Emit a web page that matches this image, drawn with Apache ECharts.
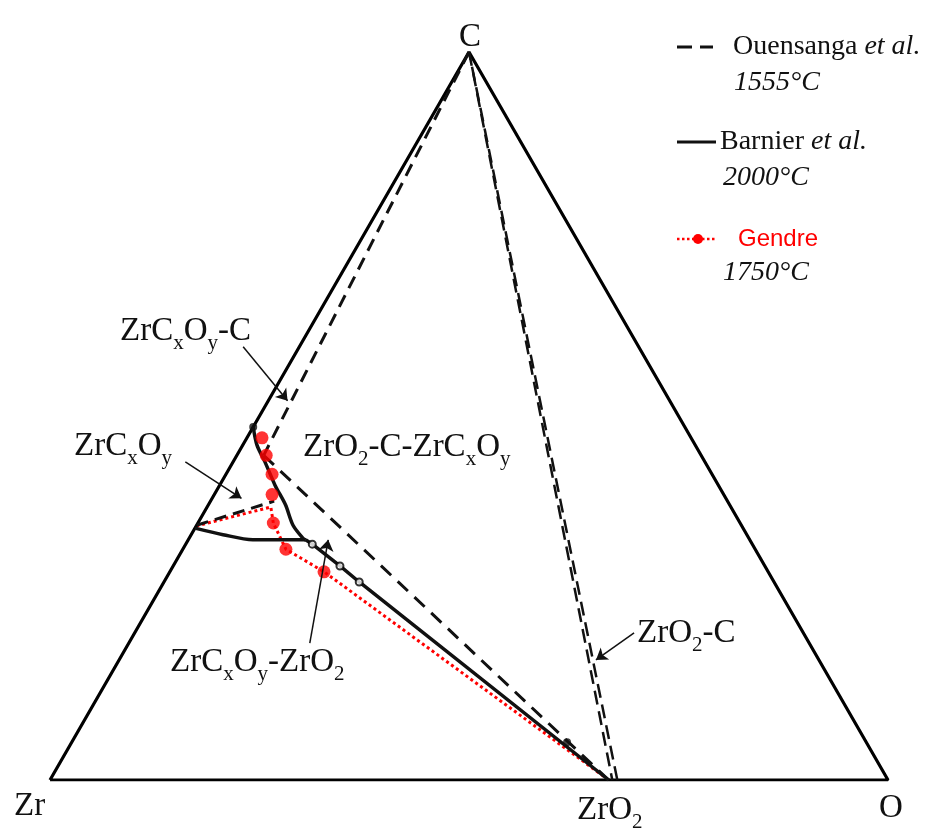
<!DOCTYPE html>
<html>
<head>
<meta charset="utf-8">
<title>Zr-C-O</title>
<script src="https://cdn.jsdelivr.net/npm/echarts@6/dist/echarts.min.js"></script>
<style>
  html, body { margin: 0; padding: 0; background: #fff; }
  #chart { width: 933px; height: 831px; }
</style>
</head>
<body>
<div id="chart"></div>
<script>
// every point is a composition: [atomic fraction of C, atomic fraction of O], Zr is the rest
const frame = [[0, 0], [0, 1], [1, 0], [0, 0]]            // Zr -> O -> C -> Zr
// Ouensanga et al. 1555°C (dashed)
const ouensangaC = [[1, 0], [0.446, 0.032]]
const ouensangaZrO2 = [[0.446, 0.032], [0, 0.6667]]
const ouensangaZr = [[0.350, 0], [0.383, 0.076]]
const ouensangaCZrO2a = [[1, 0], [0, 0.671]]
const ouensangaCZrO2b = [[1, 0], [0, 0.677]]
// Barnier et al. 2000°C (solid)
const barnierCarbide = [[0.485, 0], [0.460, 0.017], [0.437, 0.038], [0.405, 0.066], [0.378, 0.092], [0.350, 0.115], [0.332, 0.136], [0.330, 0.140]]
const barnierLower = [[0.346, 0], [0.337, 0.038], [0.330, 0.077], [0.330, 0.110], [0.330, 0.140]]
const barnierTie = [[0.330, 0.140], [0.324, 0.151], [0.294, 0.199], [0.272, 0.233], [0, 0.6667]]
const barnierOpen = [[0.324, 0.151], [0.294, 0.199], [0.272, 0.233]]
const barnierFilled = [[0.485, 0], [0.052, 0.591]]
// Gendre 1750°C (red dotted + dots)
const gendreLine = [[0.349, 0], [0.375, 0.076], [0.353, 0.090], [0.317, 0.123], [0.286, 0.184], [0, 0.6667]]
const gendreDots = [[0.470, 0.018], [0.446, 0.035], [0.420, 0.055], [0.392, 0.069], [0.353, 0.090], [0.317, 0.123], [0.286, 0.184]]
// annotation arrows: [from, to]
const arrows = [
  [[0.595, -0.067], [0.521, 0.023]],
  [[0.437, -0.057], [0.387, 0.035]],
  [[0.188, 0.216], [0.330, 0.167]],
  [[0.202, 0.596], [0.165, 0.569]]
]

const SERIF = '"Liberation Serif", "DejaVu Serif", serif'
const INK = '#111'
const RED = '#ff0000'

// composition -> cartesian (x along Zr-O, y = C fraction)
const tern = p => [p[1] + p[0] / 2, p[0]]

function line (name, pts, lineStyle, z) {
  return {
    name,
    type: 'line',
    data: pts.map(tern),
    showSymbol: false,
    symbol: 'none',
    lineStyle: { color: INK, width: 3, ...lineStyle },
    z: z || 2,
    silent: true
  }
}

// rich text for chemical formulas, tokens a = normal, s = subscript (pushed down by top padding)
const formulaRich = (size) => ({
  a: { fontSize: size, fontFamily: SERIF, fill: INK, lineHeight: Math.round(size * 1.2), verticalAlign: 'top' },
  s: { fontSize: Math.round(size * 0.64), fontFamily: SERIF, fill: INK, verticalAlign: 'top', padding: [Math.round(size * 0.55), 0, 0, 0] }
})

function formula (x, y, text, align) {
  return {
    type: 'text', x, y, z: 10,
    style: { text, rich: formulaRich(33), align: align || 'left', verticalAlign: 'top' }
  }
}

function legendText (x, y, text, style) {
  return {
    type: 'text', x, y, z: 10,
    style: {
      text, align: 'left', verticalAlign: 'middle', fill: INK,
      fontSize: 28, fontFamily: SERIF, ...style,
      rich: {
        n: { fontSize: 28, fontFamily: SERIF, fill: INK },
        i: { fontSize: 28, fontFamily: SERIF, fill: INK, fontStyle: 'italic' }
      }
    }
  }
}

const chart = echarts.init(document.getElementById('chart'))

const option = {
  animation: false,
  backgroundColor: '#fff',
  grid: { left: 50, top: 52, width: 838, height: 728 },
  xAxis: { type: 'value', min: 0, max: 1, show: false },
  yAxis: { type: 'value', min: 0, max: 1, show: false },
  series: [
    // gendre dotted under the black lines
    line('Gendre', gendreLine, { color: RED, width: 3, type: [3, 3] }, 1),
    line('frame', frame, { width: 3.2, color: '#000' }),
    line('Ouensanga', ouensangaC, { type: [13, 8] }),
    line('Ouensanga', ouensangaZrO2, { type: [14, 9] }),
    line('Ouensanga', ouensangaZr, { type: [12, 7] }),
    line('Ouensanga', ouensangaCZrO2a, { type: [14, 7], width: 2.5 }),
    line('Ouensanga', ouensangaCZrO2b, { type: [14, 7], width: 2.5, dashOffset: 6 }),
    { ...line('Barnier', barnierCarbide, { width: 3.5 }), smooth: 0.3 },
    { ...line('Barnier', barnierLower, { width: 3.5 }), smooth: 0.3 },
    line('Barnier', barnierTie, { width: 3.5 }),
    {
      name: 'Barnier', type: 'scatter', z: 4, silent: true,
      data: barnierOpen.map(tern), symbol: 'circle', symbolSize: 7,
      itemStyle: { color: '#fff', borderColor: '#000', borderWidth: 2 }
    },
    {
      name: 'Barnier', type: 'scatter', z: 4, silent: true,
      data: barnierFilled.map(tern), symbol: 'circle', symbolSize: 8,
      itemStyle: { color: INK }
    },
    {
      name: 'Gendre', type: 'scatter', z: 5, silent: true,
      data: gendreDots.map(tern), symbol: 'circle', symbolSize: 13,
      itemStyle: { color: RED }
    },
    {
      name: 'arrows', type: 'lines', coordinateSystem: 'cartesian2d', z: 6, silent: true,
      symbol: ['none', 'arrow'], symbolSize: 11,
      lineStyle: { color: INK, width: 1.5, opacity: 1 },
      data: arrows.map(a => ({ coords: a.map(tern) }))
    }
  ],
  graphic: [
    // vertices
    formula(470, 21, '{a|C}', 'center'),
    formula(14, 790, '{a|Zr}'),
    formula(577, 794, '{a|ZrO}{s|2}'),
    formula(879, 792, '{a|O}'),
    // phase fields
    formula(120, 315, '{a|ZrC}{s|x}{a|O}{s|y}{a|-C}'),
    formula(74, 430, '{a|ZrC}{s|x}{a|O}{s|y}'),
    formula(303, 431, '{a|ZrO}{s|2}{a|-C-ZrC}{s|x}{a|O}{s|y}'),
    formula(170, 646, '{a|ZrC}{s|x}{a|O}{s|y}{a|-ZrO}{s|2}'),
    formula(637, 617, '{a|ZrO}{s|2}{a|-C}'),
    // legend
    { type: 'line', z: 10, shape: { x1: 677, y1: 47, x2: 713, y2: 47 }, style: { stroke: INK, lineWidth: 3, lineDash: [15, 8] } },
    legendText(733, 47, '{n|Ouensanga }{i|et al.}'),
    legendText(734, 83, '{i|1555°C}'),
    { type: 'line', z: 10, shape: { x1: 677, y1: 142, x2: 716, y2: 142 }, style: { stroke: INK, lineWidth: 3 } },
    legendText(720, 142, '{n|Barnier }{i|et al.}'),
    legendText(723, 178, '{i|2000°C}'),
    { type: 'line', z: 10, shape: { x1: 677, y1: 239, x2: 717, y2: 239 }, style: { stroke: RED, lineWidth: 2.5, lineDash: [2.5, 2.5] } },
    { type: 'circle', z: 11, shape: { cx: 698, cy: 239, r: 5 }, style: { fill: RED } },
    {
      type: 'text', x: 738, y: 239, z: 10,
      style: { text: 'Gendre', fill: RED, fontSize: 24, fontFamily: '"Liberation Sans", "Open Sans", sans-serif', verticalAlign: 'middle' }
    },
    legendText(723, 273, '{i|1750°C}')
  ]
}

chart.setOption(option)
window.addEventListener('resize', () => chart.resize())
</script>
</body>
</html>
